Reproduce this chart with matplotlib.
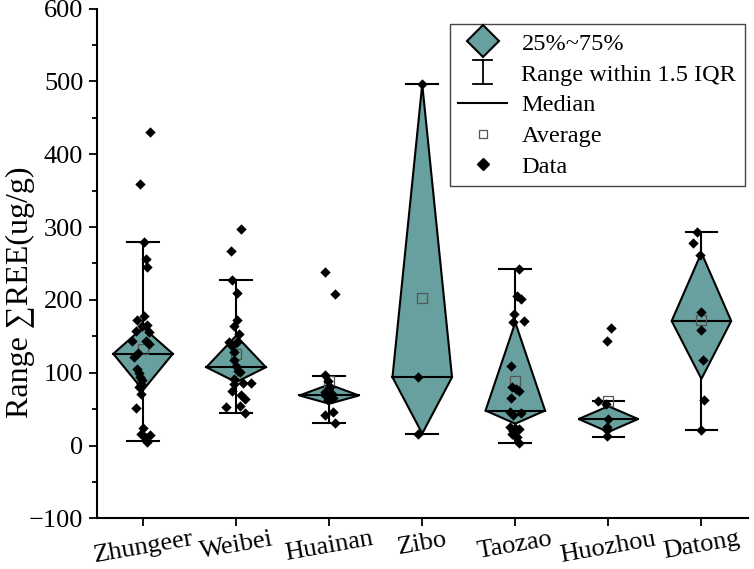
import numpy as np
import matplotlib.pyplot as plt
from matplotlib.lines import Line2D
from matplotlib.legend_handler import HandlerBase

plt.rcParams['font.family'] = ['Liberation Serif', 'DejaVu Serif']

sites = ["Zhungeer", "Weibei", "Huainan", "Zibo", "Taozao", "Huozhou", "Datong"]

# box statistics
whisk_lo = [6, 44.6, 31.4, 16.4, 4, 11.8, 21]
q1 = [76, 87, 57.4, 16.4, 30, 18.6, 91.5]
median = [126, 107.5, 68.7, 93.8, 48, 36.4, 171]
q3 = [162, 150.7, 83.8, 496, 169, 54, 264.6]
whisk_hi = [279, 227, 95, 496, 242, 61, 293]
mean = [133, 125.7, 89, 202, 89, 61, 172]

# raw data points (value, horizontal jitter)
zhungeer = [430, 359, 279, 255.6, 244.6, 178.5, 172, 165.8, 164, 156.6, 156, 143.5, 144, 140,
            121, 126.6, 104.7, 99, 93.8, 90, 84.7, 80, 71, 51.4, 24, 15.4, 14, 11.8, 5]
zhungeer_dx = [0.08, -0.035, 0.01, 0.03, 0.04, 0.01, -0.07, 0.04, -0.01, -0.08, 0.065, -0.12, 0.03, 0.06,
               -0.10, -0.05, -0.06, -0.04, -0.03, -0.01, -0.02, -0.04, -0.02, -0.08, 0, -0.02, 0.07, 0.02, 0.04]
weibei = [297.5, 267.4, 227, 209, 172, 163.5, 153, 142.5, 141.6, 137, 128, 117.5, 109.7, 103, 101,
          91.5, 85.6, 85.6, 84, 74.6, 70, 63.7, 53.7, 52.8, 44.6]
weibei_dx = [0.05, -0.06, -0.04, 0.01, 0.01, -0.02, 0.03, -0.075, 0.01, -0.04, -0.025, -0.02, 0, 0.025, 0.04,
             -0.025, 0.075, 0.16, -0.02, -0.04, 0.05, 0.10, 0.04, -0.11, 0.10]
huainan = [238, 207.7, 97, 88, 81, 73, 71, 68.7, 65.6, 62, 46, 41.4, 31.4]
huainan_dx = [-0.04, 0.06, -0.04, -0.01, 0.01, -0.04, 0.03, -0.04, 0.04, -0.01, 0.04, -0.04, 0.06]
zibo = [496, 93.8, 16.4]
zibo_dx = [0, -0.05, -0.05]
taozao = [242, 205.4, 201, 180.4, 171, 170, 109.7, 81, 78, 74.6, 65, 46, 44.6, 41.4,
          25.5, 24.6, 23.2, 20, 16.4, 14, 11.8, 4]
taozao_dx = [0.04, 0.02, 0.06, -0.01, 0.09, -0.03, -0.05, -0.04, 0.01, 0.04, -0.05, -0.06, 0.06, -0.02,
             -0.06, 0, 0.04, -0.03, -0.04, -0.01, 0.02, 0.04]
huozhou = [162, 144, 61, 56.4, 36.4, 25.5, 21, 12.7]
huozhou_dx = [0.03, -0.02, -0.11, -0.03, 0, -0.02, -0.01, -0.02]
datong = [293, 277.4, 261, 184, 159, 117.5, 62, 21]
datong_dx = [-0.05, -0.09, -0.02, 0, -0.01, 0.02, 0.025, -0.01]

all_vals = [zhungeer, weibei, huainan, zibo, taozao, huozhou, datong]
all_dx = [zhungeer_dx, weibei_dx, huainan_dx, zibo_dx, taozao_dx, huozhou_dx, datong_dx]

teal = '#67a09e'
hw = 0.32   # half width of diamond
cw = 0.17   # half width of whisker cap


class WhiskerHandler(HandlerBase):
    def create_artists(self, legend, orig_handle, xdescent, ydescent, width, height, fontsize, trans):
        cx = width / 2 - xdescent
        top = height * 1.2
        bot = -height * 0.2
        c = width * 0.2
        arts = [Line2D([cx, cx], [bot, top]),
                Line2D([cx - c, cx + c], [top, top]),
                Line2D([cx - c, cx + c], [bot, bot])]
        for a in arts:
            a.set_color('black')
            a.set_linewidth(1.3)
            a.set_transform(trans)
        return arts


fig = plt.figure(figsize=(7.54, 5.69), dpi=100)
ax = fig.add_axes([0.128, 0.089, 0.864, 0.896])

for i in range(len(sites)):
    x = i + 1
    ax.plot([x, x], [whisk_lo[i], whisk_hi[i]], color='black', lw=1.5, zorder=1)
    ax.plot([x - cw, x + cw], [whisk_lo[i]] * 2, color='black', lw=1.5, zorder=1)
    ax.plot([x - cw, x + cw], [whisk_hi[i]] * 2, color='black', lw=1.5, zorder=1)
    ax.fill([x, x + hw, x, x - hw], [q1[i], median[i], q3[i], median[i]],
            facecolor=teal, edgecolor='black', lw=1.5, zorder=2)
    ax.plot([x - hw, x + hw], [median[i]] * 2, color='black', lw=1.5, zorder=3)
    ax.plot(x, mean[i], marker='s', ms=6.5, mfc='none', mec='#555555', mew=0.9, zorder=3)
    ax.scatter(x + np.array(all_dx[i]), all_vals[i], marker='D', s=28, color='black', zorder=4, linewidths=0)

ax.set_xlim(0.5, 7.5)
ax.set_ylim(-100, 600)
ax.set_xticks(range(1, 8))
ax.set_xticklabels(sites, rotation=10, fontsize=19)
ax.set_yticks(range(-100, 601, 100))
ax.set_yticklabels(['\u2212100'] + [str(v) for v in range(0, 601, 100)], fontsize=19)
ax.set_yticks(range(-50, 600, 100), minor=True)
ax.tick_params(axis='both', which='major', direction='out', length=6, width=1.3)
ax.tick_params(axis='x', which='major', pad=1)
ax.tick_params(axis='y', which='minor', direction='out', length=3.5, width=1.3)
for s in ['top', 'right']:
    ax.spines[s].set_visible(False)
for s in ['left', 'bottom']:
    ax.spines[s].set_linewidth(1.5)
ax.set_ylabel('Range \u2211REE(ug/g)', fontsize=23)
ax.yaxis.set_label_coords(-0.094, 0.443)

whisk_handle = Line2D([], [])
handles = [
    Line2D([], [], marker='D', ms=16, mfc=teal, mec='black', mew=1.5, ls='none'),
    whisk_handle,
    Line2D([], [], color='black', lw=1.5),
    Line2D([], [], marker='s', ms=5.5, mfc='none', mec='#555555', mew=0.9, ls='none'),
    Line2D([], [], marker='D', ms=6, color='black', ls='none'),
]
labels = ['25%~75%', 'Range within 1.5 IQR', 'Median', 'Average', 'Data']
leg = ax.legend(handles, labels, loc='upper right', bbox_to_anchor=(0.995, 0.969), fontsize=17.5,
                fancybox=False, edgecolor='#444444', framealpha=1, labelspacing=0.36,
                handlelength=2.0, borderpad=0.35, handletextpad=0.6, borderaxespad=0,
                handler_map={whisk_handle: WhiskerHandler()})
leg.get_frame().set_linewidth(1.0)

fig.savefig('out.png', dpi=100)
